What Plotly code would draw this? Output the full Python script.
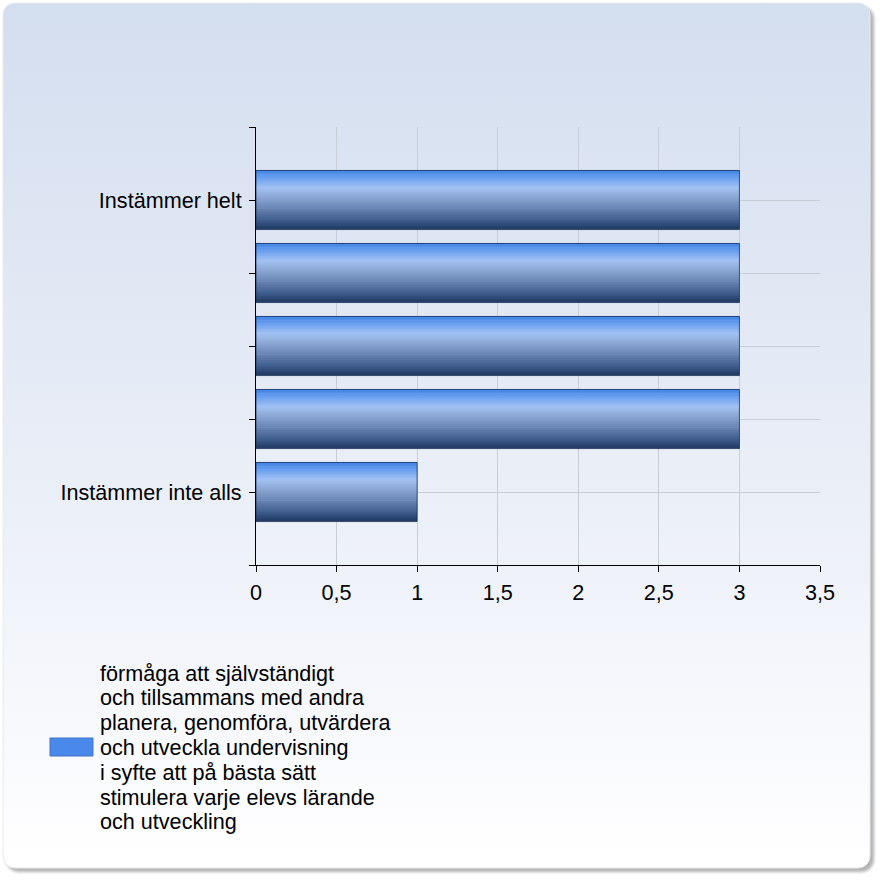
import base64
import plotly.graph_objects as go

# ---------------- data ----------------
categories = ["Instämmer helt", "", "", "", "Instämmer inte alls"]
values = [3, 3, 3, 3, 1]
x_ticks = [0, 0.5, 1, 1.5, 2, 2.5, 3, 3.5]
series_name_lines = [
    "förmåga att självständigt",
    "och tillsammans med andra",
    "planera, genomföra, utvärdera",
    "och utveckla undervisning",
    "i syfte att på bästa sätt",
    "stimulera varje elevs lärande",
    "och utveckling",
]

# ---------------- layout constants ----------------
W, H = 882, 882
ML, MR, MT, MB = 256, 62, 127, 317
PW, PH = W - ML - MR, H - MT - MB
FONT = "Liberation Sans, Arial, sans-serif"
FS = 21.6

def px_to_paper_x(px):
    return (px - ML) / PW

def px_to_paper_y(py):
    return 1 - (py - MT) / PH

n = len(categories)
positions = [n - 1 - i for i in range(n)]  # first category on top

# gradient stops for bars (fraction from top, rgb)
stops = [
    (0.00, (63, 127, 224)),
    (0.08, (85, 146, 236)),
    (0.30, (162, 194, 244)),
    (0.45, (142, 169, 214)),
    (0.65, (106, 134, 180)),
    (0.85, (63, 93, 142)),
    (1.00, (33, 58, 100)),
]

def grad_color(t):
    for (t0, c0), (t1, c1) in zip(stops[:-1], stops[1:]):
        if t0 <= t <= t1:
            f = (t - t0) / (t1 - t0) if t1 > t0 else 0
            c = [round(a + (b - a) * f) for a, b in zip(c0, c1)]
            return "rgb(%d,%d,%d)" % tuple(c)
    return "rgb(%d,%d,%d)" % stops[-1][1]

fig = go.Figure()

BAR_W = 0.81
N = 40
step = BAR_W / N
for k in range(N):
    t = (k + 0.5) / N
    fig.add_trace(go.Bar(
        x=values, y=positions, orientation="h",
        width=step * (1.0 if k == 0 else 1.5),
        offset=BAR_W / 2 - (k + 1) * step,
        marker=dict(color=grad_color(t), line=dict(width=0)),
        showlegend=False, hoverinfo="skip",
    ))

# outline trace (series)
fig.add_trace(go.Bar(
    x=values, y=positions, orientation="h", width=BAR_W,
    marker=dict(color="rgba(0,0,0,0)", line=dict(color="rgba(30,50,90,0.75)", width=1)),
    name=" ".join(series_name_lines), showlegend=False,
))

# background panel as svg image
svg = f'''<svg xmlns="http://www.w3.org/2000/svg" width="{W}" height="{H}" viewBox="0 0 {W} {H}">
<defs>
<linearGradient id="g" x1="0" y1="0" x2="0" y2="1">
<stop offset="0" stop-color="#d3deef"/>
<stop offset="0.6" stop-color="#ecf0f8"/>
<stop offset="1" stop-color="#ffffff"/>
</linearGradient>
<filter id="b"><feGaussianBlur stdDeviation="1.6"/></filter>
</defs>
<rect x="0" y="0" width="{W}" height="{H}" fill="#ffffff"/>
<rect x="6" y="6" width="868" height="866" rx="13" fill="#b4b4b4" filter="url(#b)"/>
<rect x="3" y="3" width="867" height="865" rx="12" fill="url(#g)" stroke="#e6eaf0" stroke-width="1"/>
</svg>'''
src = "data:image/svg+xml;base64," + base64.b64encode(svg.encode("utf-8")).decode()

fig.add_layout_image(dict(
    source=src, xref="paper", yref="paper",
    x=px_to_paper_x(0), y=px_to_paper_y(0),
    sizex=W / PW, sizey=H / PH,
    xanchor="left", yanchor="top", sizing="stretch", layer="below",
))

# manual legend
fig.add_shape(type="rect", xref="paper", yref="paper",
              x0=px_to_paper_x(50), x1=px_to_paper_x(93),
              y0=px_to_paper_y(756), y1=px_to_paper_y(738),
              fillcolor="#4a89ea", line=dict(color="#3f74c8", width=1))
line_gap = 24.8
first_center = 673
for i, txt in enumerate(series_name_lines):
    fig.add_annotation(
        text=txt, xref="paper", yref="paper",
        x=px_to_paper_x(98), y=px_to_paper_y(first_center + i * line_gap),
        xanchor="left", yanchor="middle", showarrow=False,
        font=dict(family=FONT, size=FS, color="#000000"),
    )

tickvals_y = [-1] + positions[::-1] + [n]
ticktext_y = [""] + categories[::-1] + [""]

fig.update_layout(
    width=W, height=H,
    margin=dict(l=ML, r=MR, t=MT, b=MB, pad=0),
    paper_bgcolor="#ffffff", plot_bgcolor="rgba(0,0,0,0)",
    barmode="overlay", showlegend=False,
    separators=", ",
    font=dict(family=FONT, size=FS, color="#000000"),
    xaxis=dict(
        range=[0, 3.5], tickvals=x_ticks, showgrid=True, gridcolor="#c8ced8", gridwidth=1,
        showline=True, linecolor="#000000", linewidth=1,
        ticks="outside", ticklen=6, tickcolor="#000000", zeroline=False,
        ticklabelstandoff=2,
        tickfont=dict(family=FONT, size=FS, color="#000000"),
    ),
    yaxis=dict(
        range=[-1, n], tickvals=tickvals_y, ticktext=ticktext_y,
        showgrid=True, gridcolor="#c8ced8", gridwidth=1,
        showline=True, linecolor="#000000", linewidth=1,
        ticks="outside", ticklen=6, tickcolor="#000000", zeroline=False,
        ticklabelstandoff=3,
        tickfont=dict(family=FONT, size=FS, color="#000000"),
    ),
)

fig.write_html("out.html", config={"displayModeBar": False},
               post_script="document.body.style.margin='0';")
